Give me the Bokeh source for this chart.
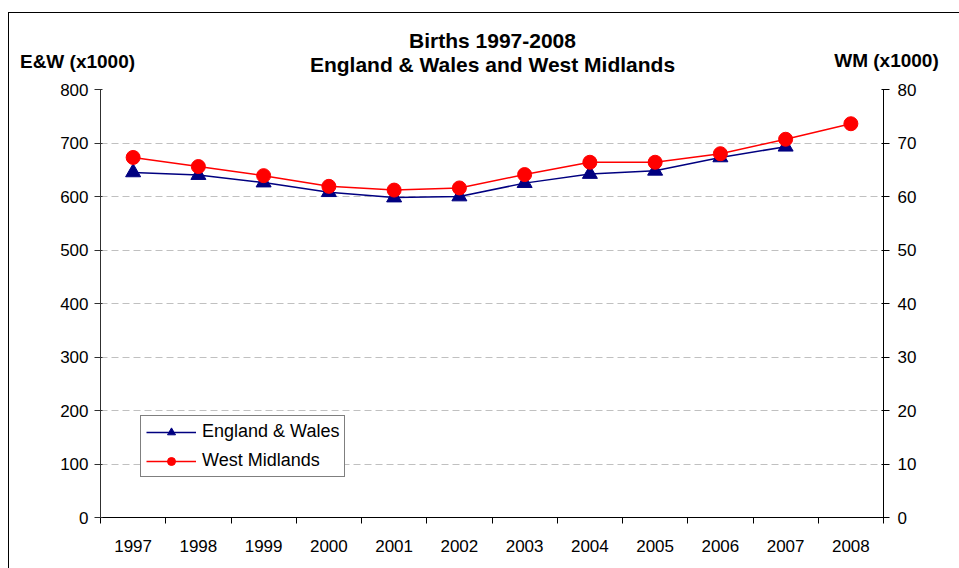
from bokeh.plotting import figure
from bokeh.layouts import column
from bokeh.models import (Range1d, LinearAxis, FixedTicker, Legend, LegendItem, Label)
from bokeh.embed import file_html
from bokeh.resources import INLINE

years = ["1997", "1998", "1999", "2000", "2001", "2002", "2003", "2004", "2005", "2006", "2007", "2008"]
ew_births = [645, 640, 626, 608, 598, 600, 625, 642, 648, 673, 693]          # x1000, 1997-2007
wm_births = [67.3, 65.6, 63.9, 61.9, 61.2, 61.6, 64.1, 66.4, 66.4, 68.0, 70.7, 73.6]  # x1000
left_ticks = [0, 100, 200, 300, 400, 500, 600, 700, 800]
right_ticks = [0, 10, 20, 30, 40, 50, 60, 70, 80]
title_lines = ["Births 1997-2008", "England & Wales and West Midlands"]
left_label = "E&W (x1000)"
right_label = "WM (x1000)"

FONT = "Liberation Sans"
W = 950
HEAD_H = 64

centers = [i + 0.5 for i in range(len(years))]
boundaries = list(range(len(years) + 1))

# ---------- header (titles) ----------
head = figure(width=W, height=HEAD_H, output_backend="svg", toolbar_location=None,
              x_range=Range1d(0, W), y_range=Range1d(HEAD_H, 0),
              min_border=0, outline_line_color=None, border_fill_color="white",
              background_fill_color="white")
head.frame_align = False
head.axis.visible = False
head.grid.visible = False

for txt, x, y, size in [(title_lines[0], 483, 27, "21px"), (title_lines[1], 483, 51, "21px"),
                        (left_label, 68, 48, "19px"), (right_label, 877, 47, "19px")]:
    head.add_layout(Label(x=x, y=y, text=txt, text_font=FONT, text_font_size=size,
                          text_font_style="bold", text_color="black",
                          text_align="center", text_baseline="middle"))

# ---------- main chart ----------
p = figure(width=W, height=491, output_backend="svg", toolbar_location=None,
           x_range=Range1d(0, len(years)), y_range=Range1d(0, 800),
           min_border_left=91, min_border_right=76, min_border_top=12, min_border_bottom=51,
           outline_line_color=None, background_fill_color="white", border_fill_color="white")
p.frame_align = False
p.extra_y_ranges = {"wm": Range1d(0, 80)}

p.xgrid.visible = False
p.ygrid.ticker = FixedTicker(ticks=left_ticks)
p.ygrid.grid_line_color = "#c0c0c0"
p.ygrid.grid_line_dash = "7 4"
p.ygrid.grid_line_width = 1

xa = p.xaxis[0]
xa.ticker = FixedTicker(ticks=centers, minor_ticks=boundaries)
xa.major_label_overrides = {c: y for c, y in zip(centers, years)}
xa.major_tick_in = 0
xa.major_tick_out = 0
xa.minor_tick_in = 0
xa.minor_tick_out = 6
xa.minor_tick_line_color = "black"
xa.axis_line_color = "black"
xa.major_label_standoff = 16
xa.major_label_text_font = FONT
xa.major_label_text_font_size = "17px"
xa.major_label_text_color = "black"

ya = p.yaxis[0]
ya.ticker = FixedTicker(ticks=left_ticks)
ya.major_tick_in = 2
ya.major_tick_out = 6
ya.minor_tick_line_color = None
ya.axis_line_color = "#303030"
ya.major_tick_line_color = "#303030"
ya.major_label_standoff = 6
ya.major_label_text_font = FONT
ya.major_label_text_font_size = "17px"
ya.major_label_text_color = "black"

ra = LinearAxis(y_range_name="wm", ticker=FixedTicker(ticks=right_ticks))
ra.major_tick_in = 2
ra.major_tick_out = 6
ra.minor_tick_line_color = None
ra.axis_line_color = "black"
ra.major_tick_line_color = "black"
ra.major_label_standoff = 8
ra.major_label_text_font = FONT
ra.major_label_text_font_size = "17px"
ra.major_label_text_color = "black"
p.add_layout(ra, "right")

ew_x = centers[:len(ew_births)]
l1 = p.line(ew_x, ew_births, line_color="#000080", line_width=1.5)
s1 = p.scatter(ew_x, ew_births, marker="triangle", size=15, fill_color="#000080", line_color="#000080")
l2 = p.line(centers, wm_births, line_color="#ff0000", line_width=1.5, y_range_name="wm")
s2 = p.scatter(centers, wm_births, marker="circle", size=14, fill_color="#ff0000", line_color="#ff0000",
               y_range_name="wm")

legend = Legend(items=[LegendItem(label="England & Wales", renderers=[l1, s1]),
                       LegendItem(label="West Midlands", renderers=[l2, s2])],
                location=(40, 40), orientation="vertical",
                border_line_color="black", border_line_width=1,
                background_fill_color="white", background_fill_alpha=1,
                padding=5, spacing=8, margin=0,
                glyph_width=50, glyph_height=20, label_standoff=6, label_height=20,
                label_text_font=FONT, label_text_font_size="18px", label_text_color="black")
p.add_layout(legend, "center")

layout = column(head, p, spacing=0)
layout.margin = (12, 0, 0, 8)
layout.styles = {"border-left": "1px solid black", "border-top": "1px solid black"}
open("out.html", "w").write(file_html(layout, INLINE))
